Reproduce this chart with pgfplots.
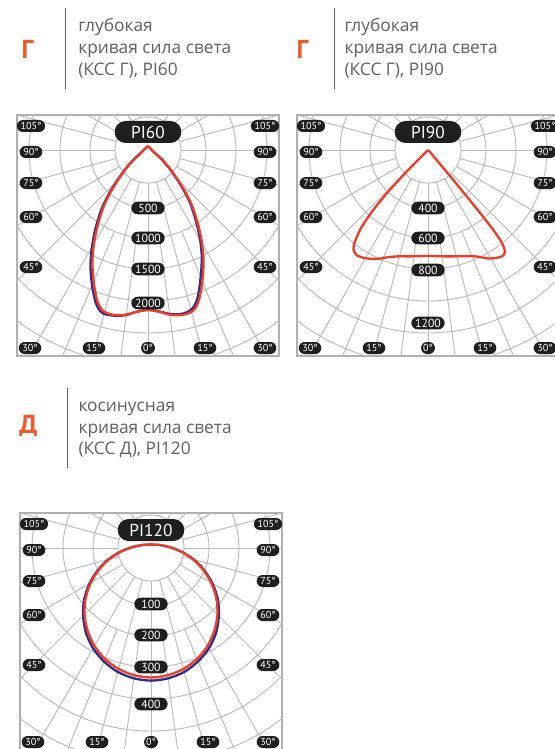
\documentclass[border=0pt]{standalone}
\usepackage{pgfplots}
\pgfplotsset{compat=1.18}
\usepackage{pgfplotstable}
\usepackage{fontspec}
\setmainfont{PT Sans}
\newfontfamily\hdrfont{Open Sans}
\usetikzlibrary{shapes.misc}

\definecolor{kred}{HTML}{EE3D24}
\definecolor{kblue}{HTML}{2E2C8E}
\definecolor{korange}{HTML}{F05A28}
\definecolor{kgrid}{HTML}{BABABA}
\definecolor{kframe}{HTML}{B0B0B0}
\definecolor{kpill}{HTML}{1F1F1F}
\definecolor{ktext}{HTML}{606060}
\definecolor{kbar}{HTML}{5E5E5E}

% g = angle from nadir (deg), I = luminous intensity (cd)
\pgfplotstableread{
g I
-180 50
-135 37
-90 51
-66.8 98
-55.4 226
-49 391
-44.1 589
-40.65 777
-37.8 940
-33.6 1170
-30.1 1380
-26.8 1580
-23.75 1750
-21.2 1895
-18.8 2030
-16.7 2115
-14.9 2150
-12 2160
-8 2135
-4 2080
0 2050
4 2080
8 2135
12 2160
14.9 2150
16.7 2115
18.8 2030
21.2 1895
23.75 1750
26.8 1580
30.1 1380
33.6 1170
37.8 940
40.65 777
44.1 589
49 391
55.4 226
66.8 98
90 51
135 37
180 50
}\tabSixRed

\pgfplotstableread{
g I
-180 50
-135 38
-90 55
-66.8 105
-55.4 240
-49 410
-44.1 620
-40.65 815
-37.8 985
-33.6 1220
-30.1 1430
-26.8 1635
-23.75 1805
-21.2 1945
-18.8 2075
-16.7 2150
-14.9 2175
-12 2170
-8 2140
-4 2080
0 2050
4 2075
8 2125
12 2145
14.9 2125
16.7 2080
18.8 1985
21.2 1840
23.75 1695
26.8 1530
30.1 1335
33.6 1125
37.8 900
40.65 740
44.1 560
49 372
55.4 212
66.8 92
90 48
135 36
180 50
}\tabSixBlue

\pgfplotstableread{
g I
-48 0
-46 21
-45.2 83
-44.7 179
-44.3 276
-43.6 414
-42.5 552
-40.8 697
-39.2 780
-38 830
-36.5 862
-34 876
-30 862
-25 828
-20 786
-15 759
-10 745
0 731
10 745
15 759
20 779
24.5 807
29 855
33 885
35.5 893
37.3 875
38.5 820
39.2 720
39.5 600
39.8 450
40.1 269
40.5 138
41.5 55
45 14
50 0
}\tabNineRed

\pgfplotstableread{
g I
-180 9
-165 9
-150 10
-135 12
-120 17
-112.5 21
-105 27
-97.5 38
-90 55
-82.5 81
-75 113
-67.5 147
-60 182
-52.5 216
-45 246
-37.5 274
-30 297
-22.5 315
-15 329
-7.5 337
0 340
7.5 337
15 329
22.5 315
30 297
37.5 274
45 246
52.5 216
60 182
67.5 147
75 113
82.5 81
90 55
97.5 38
105 27
112.5 21
120 17
135 12
150 10
165 9
180 9
}\tabTwelveBlue

\pgfplotstableread{
g I
-180 9
-165 9
-150 10
-135 12
-120 17
-112.5 21
-105 27
-97.5 37
-90 55
-82.5 80
-75 111
-67.5 144
-60 178
-52.5 211
-45 241
-37.5 267
-30 290
-22.5 308
-15 321
-7.5 329
0 332
7.5 329
15 321
22.5 308
30 290
37.5 267
45 241
52.5 211
60 178
67.5 144
75 111
82.5 80
90 55
97.5 37
105 27
112.5 21
120 17
135 12
150 10
165 9
180 9
}\tabTwelveRed

\pgfplotsset{
  kss/.style={
    x=0.75pt, y=0.75pt,
    xmin=-131, xmax=131, ymin=-206, ymax=35,
    axis line style={kframe, line width=1.3pt},
    ticks=none,
    anchor=south west,
  },
  curve/.style={smooth, line width=1.75pt},
}
\tikzset{
  angpill/.style={rounded rectangle, fill=kpill, text=white, inner xsep=1.8pt, inner ysep=0pt,
    minimum height=9pt, minimum width=14pt, font=\fontsize{7.6pt}{7.6pt}\selectfont},
  valpill/.style={rounded rectangle, fill=kpill, text=white, inner xsep=1pt, inner ysep=0pt,
    minimum height=9.4pt, minimum width=27pt, font=\fontsize{8.8pt}{8.8pt}\selectfont},
  titlepill/.style={rounded rectangle, fill=kpill, text=white, inner sep=0pt,
    minimum height=16.5pt, minimum width=50pt, font=\fontsize{13pt}{13pt}\selectfont},
  gridl/.style={kgrid, line width=0.7pt},
  hdr/.style={anchor=base west, inner sep=0pt, text=ktext, font=\hdrfont\fontsize{13pt}{13pt}\selectfont},
  big/.style={anchor=base, inner sep=0pt, text=korange, font=\fontsize{19.5pt}{19.5pt}\selectfont\bfseries},
}

\newcommand{\kssgrid}{%
  \draw[gridl] (axis cs:0,0) circle[radius=24.75pt];
  \draw[gridl] (axis cs:0,0) circle[radius=43.5pt];
  \draw[gridl] (axis cs:0,0) circle[radius=66pt];
  \draw[gridl] (axis cs:0,0) circle[radius=89.25pt];
  \draw[gridl] (axis cs:0,0) circle[radius=113.25pt];
  \draw[gridl] (axis cs:0,0) circle[radius=137.25pt];
  \draw[gridl] (axis cs:0,0) circle[radius=161.25pt];
  \draw[gridl] (axis cs:0,0) circle[radius=186pt];
  \draw[gridl] (axis cs:0,0) circle[radius=210.75pt];
  \pgfplotsinvokeforeach{0,15,30,45,60,75,90,105,120,135,150,165,180,-15,-30,-45,-60,-75,-90,-105,-120,-135,-150,-165}{%
    \draw[gridl] (axis cs:{33*sin(##1)},{-33*cos(##1)}) -- (axis cs:{400*sin(##1)},{-400*cos(##1)});
  }%
  \pgfplotsinvokeforeach{7.5,22.5,-7.5,-22.5}{%
    \draw[gridl] (axis cs:{88*sin(##1)},{-88*cos(##1)}) -- (axis cs:{400*sin(##1)},{-400*cos(##1)});
  }%
}
% #1 = vertical position of the bottom row of angle labels
\newcommand{\kssangles}[1]{%
  \node[angpill] at (axis cs:-117,24) {105°};
  \node[angpill] at (axis cs:117,24) {105°};
  \node[angpill] at (axis cs:-117,-2) {90°};
  \node[angpill] at (axis cs:117,-2) {90°};
  \node[angpill] at (axis cs:-117,-33) {75°};
  \node[angpill] at (axis cs:117,-33) {75°};
  \node[angpill] at (axis cs:-117,-67) {60°};
  \node[angpill] at (axis cs:117,-67) {60°};
  \node[angpill] at (axis cs:-117,-117) {45°};
  \node[angpill] at (axis cs:117,-117) {45°};
  \node[angpill] at (axis cs:-118,#1) {30°};
  \node[angpill] at (axis cs:-54,#1) {15°};
  \node[angpill] at (axis cs:0,#1) {0°};
  \node[angpill] at (axis cs:57,#1) {15°};
  \node[angpill] at (axis cs:117,#1) {30°};
}

\begin{document}
\begin{tikzpicture}
\useasboundingbox (0,0) rectangle (416.25pt,-561.75pt);
\clip (0,0) rectangle (416.25pt,-561.75pt);

% ---------- headers ----------
\begin{scope}[x=0.75pt,y=-0.75pt]
  \node[big] at (27.5,59) {Г};
  \draw[kbar, line width=1.1pt] (65.7,8.3) -- (65.7,89.3);
  \node[hdr] at (78,32) {глубокая};
  \node[hdr] at (78,53.5) {кривая сила света};
  \node[hdr] at (78,75) {(КСС Г), PI60};

  \node[big] at (302.5,59) {Г};
  \draw[kbar, line width=1.1pt] (334.3,8.3) -- (334.3,89.3);
  \node[hdr] at (344.3,32) {глубокая};
  \node[hdr] at (344.3,53.5) {кривая сила света};
  \node[hdr] at (344.3,75) {(КСС Г), PI90};

  \node[big] at (28.3,433) {Д};
  \draw[kbar, line width=1.1pt] (67.3,388.3) -- (67.3,468.3);
  \node[hdr] at (78.3,411.5) {косинусная};
  \node[hdr] at (78.3,433) {кривая сила света};
  \node[hdr] at (78.3,454.5) {(КСС Д), PI120};
\end{scope}

% ---------- PI60 ----------
\begin{axis}[kss, at={(12.75pt,-267pt)}]
  \kssgrid
  \addplot[kblue, curve] table[x expr={0.078*\thisrow{I}*sin(\thisrow{g})}, y expr={-0.078*\thisrow{I}*cos(\thisrow{g})}] {\tabSixBlue};
  \addplot[kred, curve] table[x expr={0.078*\thisrow{I}*sin(\thisrow{g})}, y expr={-0.078*\thisrow{I}*cos(\thisrow{g})}] {\tabSixRed};
  \kssangles{-198}
  \node[valpill] at (axis cs:0,-58) {500};
  \node[valpill] at (axis cs:0,-88) {1000};
  \node[valpill] at (axis cs:0,-119) {1500};
  \node[valpill] at (axis cs:0,-153) {2000};
  \node[titlepill] at (axis cs:0,18) {PI60};
\end{axis}

% ---------- PI90 ----------
\begin{axis}[kss, at={(222.75pt,-267pt)}]
  \kssgrid
  \addplot[kred, curve] table[x expr={0.145*\thisrow{I}*sin(\thisrow{g})}, y expr={-0.145*\thisrow{I}*cos(\thisrow{g})}] {\tabNineRed};
  \kssangles{-198}
  \node[valpill] at (axis cs:0,-58) {400};
  \node[valpill] at (axis cs:0,-88) {600};
  \node[valpill] at (axis cs:0,-120) {800};
  \node[valpill] at (axis cs:0,-173) {1200};
  \node[titlepill] at (axis cs:0,18) {PI90};
\end{axis}

% ---------- PI120 ----------
\begin{axis}[kss, at={(15pt,-565.5pt)}]
  \kssgrid
  \addplot[kblue, curve] table[x expr={0.39*\thisrow{I}*sin(\thisrow{g})}, y expr={-0.39*\thisrow{I}*cos(\thisrow{g})}] {\tabTwelveBlue};
  \addplot[kred, curve] table[x expr={0.39*\thisrow{I}*sin(\thisrow{g})}, y expr={-0.39*\thisrow{I}*cos(\thisrow{g})}] {\tabTwelveRed};
  \kssangles{-194}
  \node[valpill] at (axis cs:0,-56) {100};
  \node[valpill] at (axis cs:0,-87) {200};
  \node[valpill] at (axis cs:0,-119) {300};
  \node[valpill] at (axis cs:0,-156) {400};
  \node[titlepill] at (axis cs:0,18) {PI120};
\end{axis}
\end{tikzpicture}
\end{document}
